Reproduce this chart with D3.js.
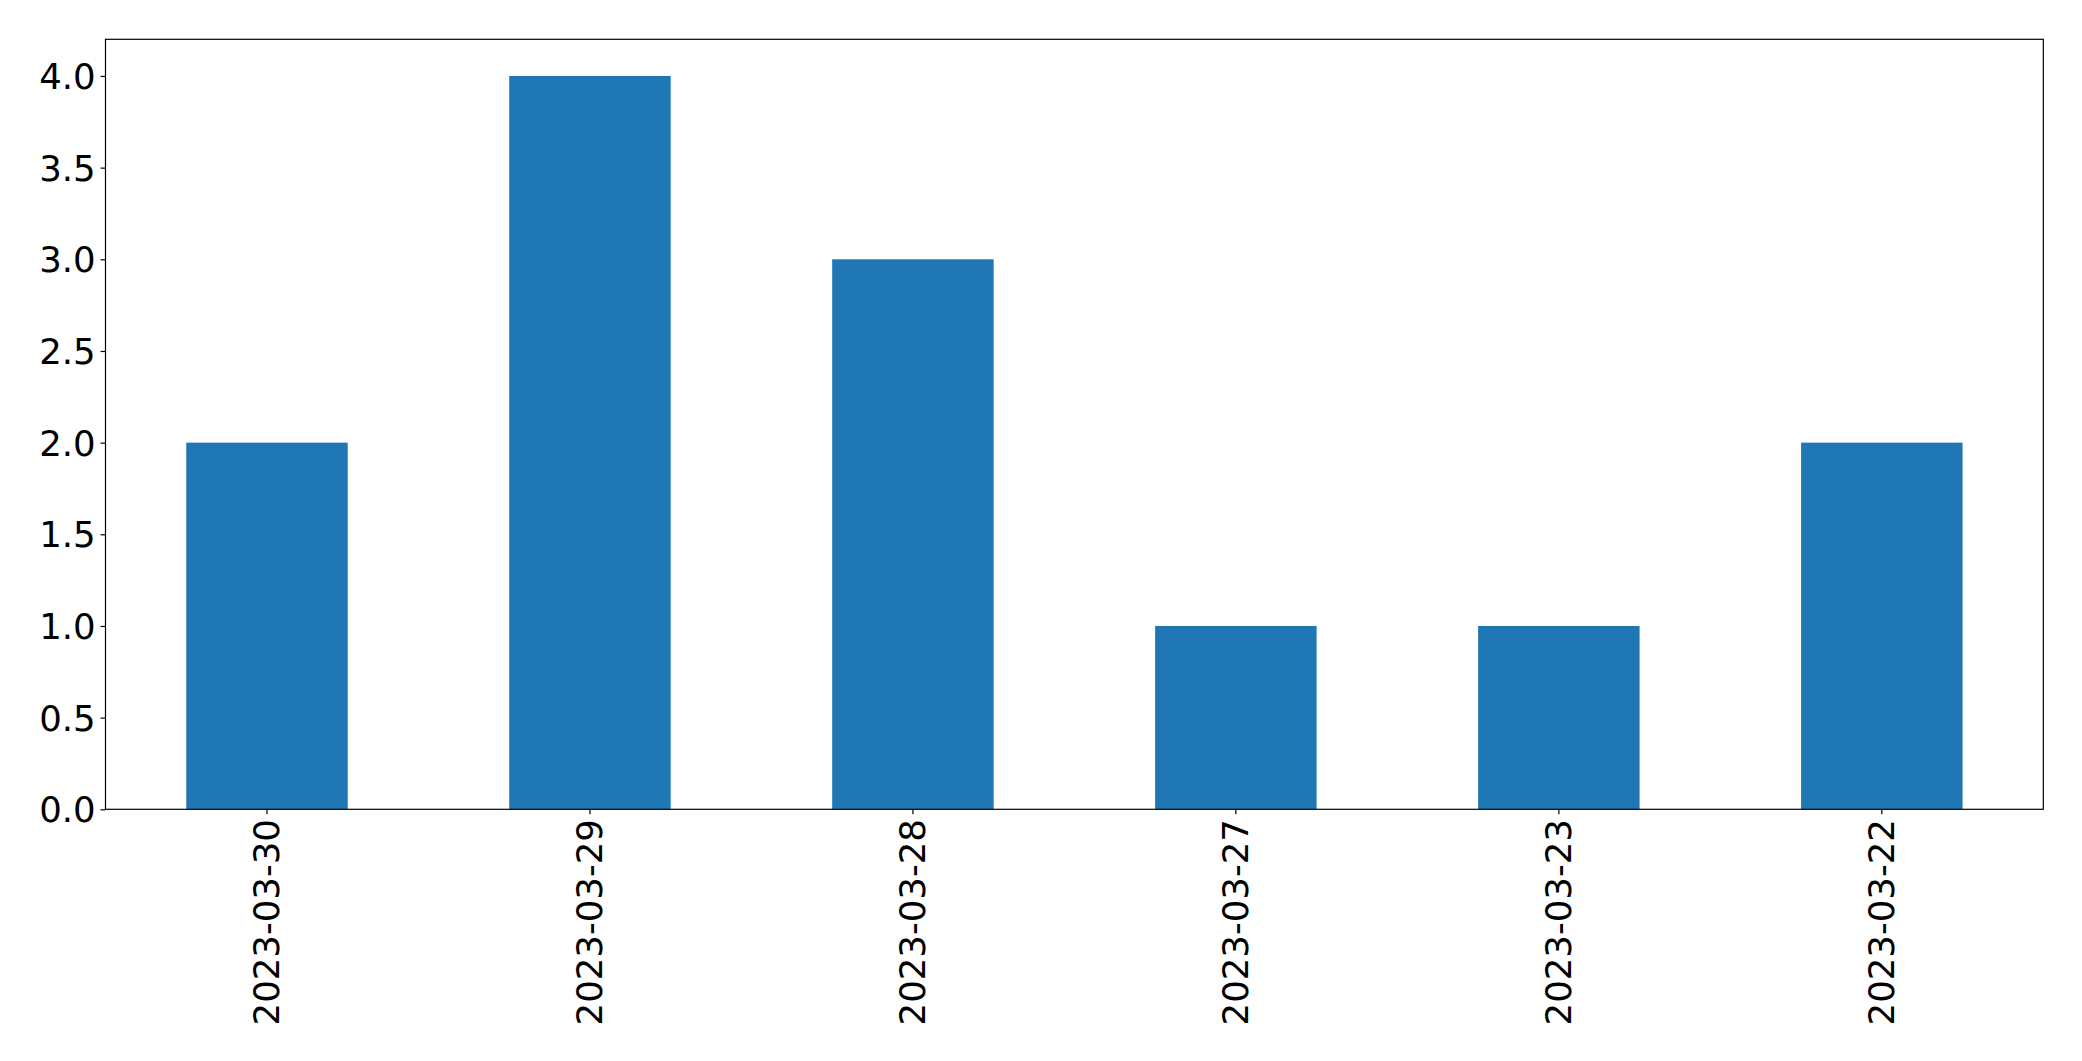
<!DOCTYPE html>
<html><head><meta charset="utf-8">
<script src="https://cdn.jsdelivr.net/npm/d3@7"></script>
<style>body{margin:0;background:#fff}svg{display:block}</style>
</head><body>
<script>
const categories = ["2023-03-30","2023-03-29","2023-03-28","2023-03-27","2023-03-23","2023-03-22"];
const values = [2, 4, 3, 1, 1, 2];
const yTicks = [0,0.5,1,1.5,2,2.5,3,3.5,4];

const W = 2082, H = 1061;
const m = {left:105.5, right:2043.3, top:39.3, bottom:809.3};
const svg = d3.select("body").append("svg").attr("width",W).attr("height",H);

const x = d3.scaleBand().domain(categories).range([m.left,m.right]).paddingInner(0.5).paddingOuter(0.25);
const y = d3.scaleLinear().domain([0,4.2]).range([m.bottom,m.top]);

svg.selectAll("rect.bar").data(values).enter().append("rect")
  .attr("class","bar")
  .attr("x",(d,i)=>x(categories[i]))
  .attr("width",x.bandwidth())
  .attr("y",d=>y(d))
  .attr("height",d=>y(0)-y(d))
  .attr("fill","#1f77b4");

const font = "'DejaVu Sans', sans-serif";
const fs = 35.5;

const yAxis = d3.axisLeft(y).tickValues(yTicks).tickFormat(d3.format(".1f")).tickSize(4.9).tickPadding(4.9);
const gy = svg.append("g").attr("transform",`translate(${m.left},0)`).call(yAxis);
gy.select(".domain").remove();
gy.selectAll("line").attr("stroke","#000").attr("stroke-width",1.2);
gy.selectAll("text").attr("font-family",font).attr("font-size",fs).attr("fill","#000").attr("dy","0.35em");

const xAxis = d3.axisBottom(x).tickSize(4.9).tickPadding(4.9);
const gx = svg.append("g").attr("transform",`translate(0,${m.bottom})`).call(xAxis);
gx.select(".domain").remove();
gx.selectAll("line").attr("stroke","#000").attr("stroke-width",1.2);
gx.selectAll("text")
  .attr("font-family",font).attr("font-size",fs).attr("fill","#000")
  .attr("text-anchor","end")
  .attr("transform","rotate(-90)")
  .attr("x",-9.8).attr("y",0).attr("dy","0.35em");

svg.append("rect").attr("x",m.left).attr("y",m.top)
  .attr("width",m.right-m.left).attr("height",m.bottom-m.top)
  .attr("fill","none").attr("stroke","#000").attr("stroke-width",1.2);
</script>
</body></html>
